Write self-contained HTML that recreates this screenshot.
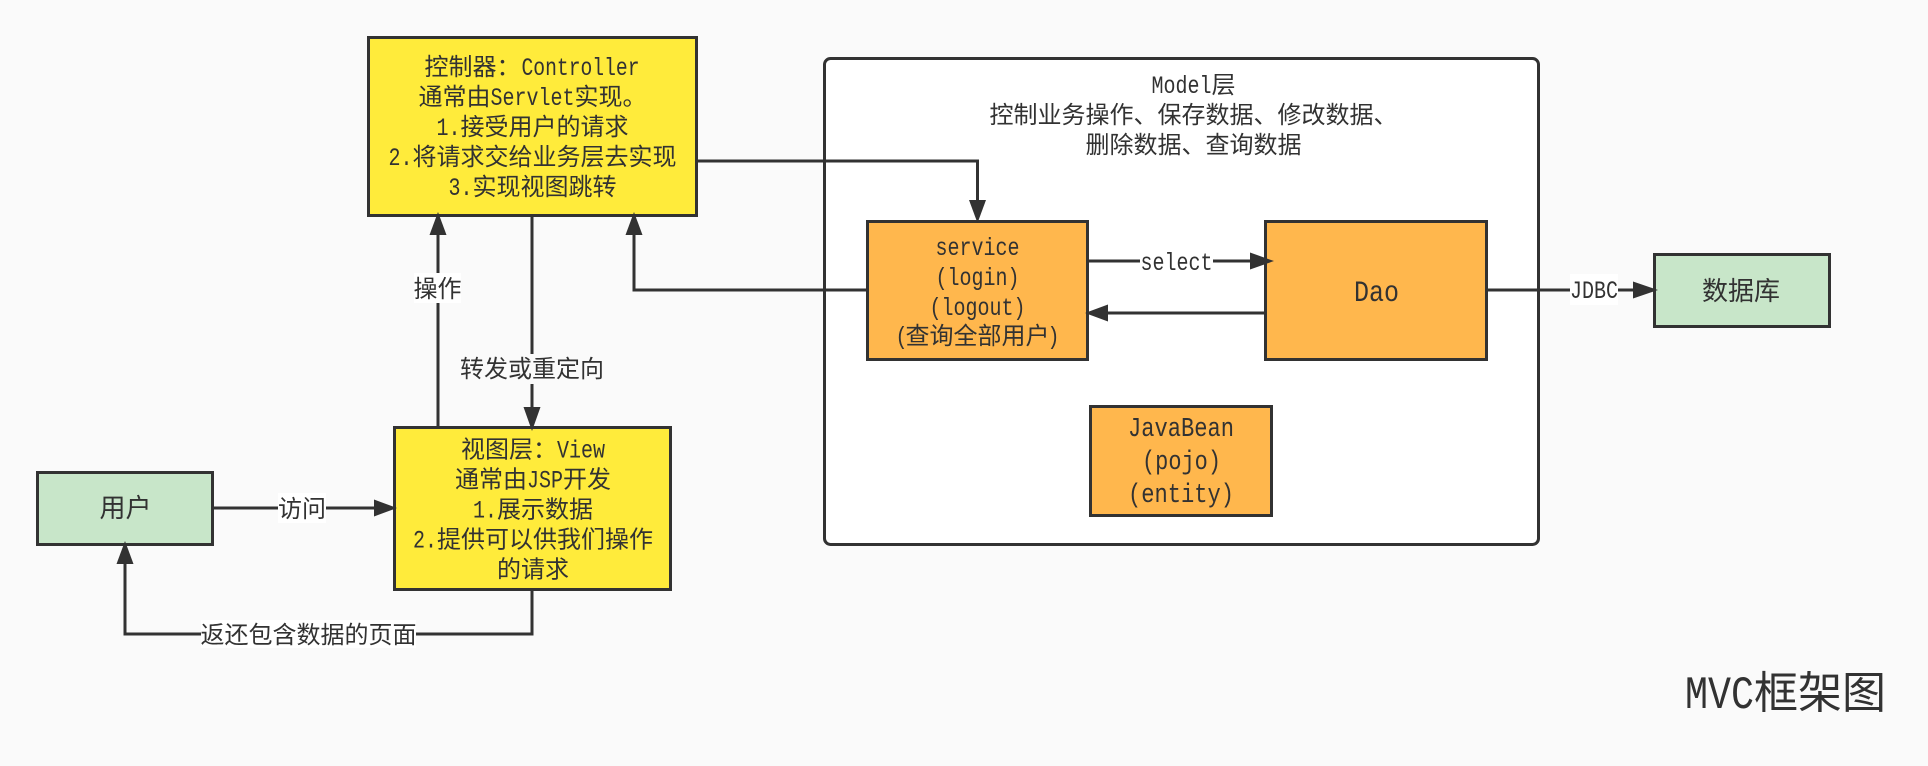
<!DOCTYPE html>
<html lang="zh">
<head>
<meta charset="utf-8">
<style>
html,body{margin:0;padding:0;background:#fafafa;width:1928px;height:766px;overflow:hidden}
svg{display:block}
text{fill:#323232;font-size:24px}
.c{font-family:"Liberation Sans","Noto Sans CJK SC",sans-serif}
.m{font-family:"Liberation Mono",monospace;font-size:25px}
.mid{text-anchor:middle}
.n{stroke:#323232;stroke-width:3}
.e{fill:none;stroke:#323232;stroke-width:3}
.a{fill:#323232;stroke:none}
</style>
</head>
<body>
<svg width="1928" height="766" viewBox="0 0 1928 766" xmlns="http://www.w3.org/2000/svg">
<rect width="1928" height="766" fill="#fafafa"/>

<rect class="n" x="824.5" y="58.5" width="714" height="486" rx="6" fill="#fff"/>
<rect class="n" x="368.5" y="37.5" width="328" height="178" fill="#ffeb3b"/>
<rect class="n" x="394.5" y="427.5" width="276" height="162" fill="#ffeb3b"/>
<rect class="n" x="37.5" y="472.5" width="175" height="72" fill="#c8e6c9"/>
<rect class="n" x="867.5" y="221.5" width="220" height="138" fill="#ffb74d"/>
<rect class="n" x="1265.5" y="221.5" width="221" height="138" fill="#ffb74d"/>
<rect class="n" x="1090.5" y="406.5" width="181" height="109" fill="#ffb74d"/>
<rect class="n" x="1654.5" y="254.5" width="175" height="72" fill="#c8e6c9"/>

<path class="e" d="M532 217V410"/>
<polygon class="a" points="532,431 523.5,407 540.5,407"/>
<path class="e" d="M438 426V233"/>
<polygon class="a" points="438,212 429.5,235 446.5,235"/>
<path class="e" d="M866 290H634V233"/>
<polygon class="a" points="634,212 625.5,235 642.5,235"/>
<path class="e" d="M698 161H977.5V203"/>
<polygon class="a" points="977.5,223 969,200 986,200"/>
<path class="e" d="M1089 261H1252"/>
<polygon class="a" points="1274,261 1250,252.5 1250,269.5"/>
<path class="e" d="M1265 313H1105"/>
<polygon class="a" points="1085,313 1108,304.5 1108,321.5"/>
<path class="e" d="M1487 290H1636"/>
<polygon class="a" points="1658,290 1633,281.5 1633,298.5"/>
<path class="e" d="M214 508H376"/>
<polygon class="a" points="397,508 374,499.5 374,516.5"/>
<path class="e" d="M532 591V634H125V562"/>
<polygon class="a" points="125,541 116.5,564 133.5,564"/>

<rect x="414" y="273" width="47" height="30" fill="#fff"/>
<rect x="458" y="354" width="148" height="30" fill="#fafafa"/>
<rect x="1140" y="246" width="73" height="30" fill="#fff"/>
<rect x="1570" y="274" width="48" height="31" fill="#fff"/>
<rect x="278" y="493" width="48" height="30" fill="#fff"/>
<rect x="201" y="620" width="215" height="28" fill="#fff"/>

<!-- Controller -->
<text class="c" x="424.5" y="75">控制器：</text>
<text class="m" x="521.5" y="75" textLength="118" lengthAdjust="spacingAndGlyphs">Controller</text>
<text class="c" x="418.5" y="105">通常由</text>
<text class="m" x="490.5" y="105" textLength="84" lengthAdjust="spacingAndGlyphs">Servlet</text>
<text class="c" x="574.5" y="105">实现。</text>
<text class="m" x="436.5" y="135" textLength="24" lengthAdjust="spacingAndGlyphs">1.</text>
<text class="c" x="460.5" y="135">接受用户的请求</text>
<text class="m" x="388.5" y="165" textLength="24" lengthAdjust="spacingAndGlyphs">2.</text>
<text class="c" x="412.5" y="165">将请求交给业务层去实现</text>
<text class="m" x="448.5" y="195" textLength="24" lengthAdjust="spacingAndGlyphs">3.</text>
<text class="c" x="472.5" y="195">实现视图跳转</text>

<!-- View -->
<text class="c" x="461" y="457.5">视图层：</text>
<text class="m" x="557" y="457.5" textLength="48" lengthAdjust="spacingAndGlyphs">View</text>
<text class="c" x="455" y="487.5">通常由</text>
<text class="m" x="527" y="487.5" textLength="36" lengthAdjust="spacingAndGlyphs">JSP</text>
<text class="c" x="563" y="487.5">开发</text>
<text class="m" x="473" y="517.5" textLength="24" lengthAdjust="spacingAndGlyphs">1.</text>
<text class="c" x="497" y="517.5">展示数据</text>
<text class="m" x="413" y="547.5" textLength="24" lengthAdjust="spacingAndGlyphs">2.</text>
<text class="c" x="437" y="547.5">提供可以供我们操作</text>
<text class="c mid" x="533" y="577.5">的请求</text>

<!-- Model -->
<text class="m" x="1151.5" y="93" textLength="60" lengthAdjust="spacingAndGlyphs">Model</text>
<text class="c" x="1211.5" y="93">层</text>
<text class="c" x="989.5" y="123">控制业务操作、保存数据、修改数据、</text>
<text class="c" x="1085.5" y="153">删除数据、查询数据</text>

<!-- Service -->
<text class="m" x="935.5" y="255" textLength="84" lengthAdjust="spacingAndGlyphs">service</text>
<text class="m" x="935.5" y="285" textLength="84" lengthAdjust="spacingAndGlyphs">(login)</text>
<text class="m" x="929.5" y="315" textLength="96" lengthAdjust="spacingAndGlyphs">(logout)</text>
<text class="m" x="895.5" y="344" textLength="12" lengthAdjust="spacingAndGlyphs">(</text>
<text class="c" x="905.5" y="344">查询全部用户</text>
<text class="m" x="1047.5" y="344" textLength="12" lengthAdjust="spacingAndGlyphs">)</text>

<!-- Dao -->
<text class="m" style="font-size:30px" x="1354" y="301" textLength="45" lengthAdjust="spacingAndGlyphs">Dao</text>

<!-- JavaBean -->
<text class="m" style="font-size:27px" x="1128" y="436" textLength="106" lengthAdjust="spacingAndGlyphs">JavaBean</text>
<text class="m" style="font-size:27px" x="1142" y="469" textLength="79" lengthAdjust="spacingAndGlyphs">(pojo)</text>
<text class="m" style="font-size:27px" x="1128" y="502" textLength="106" lengthAdjust="spacingAndGlyphs">(entity)</text>

<text class="c mid" style="font-size:26px" x="125.5" y="517">用户</text>
<text class="c mid" style="font-size:26px" x="1741" y="300">数据库</text>

<!-- Edge labels -->
<text class="c mid" x="437.5" y="297">操作</text>
<text class="c mid" x="532" y="377">转发或重定向</text>
<text class="m" x="1140.5" y="270" textLength="72" lengthAdjust="spacingAndGlyphs">select</text>
<text class="m" x="1570" y="298" textLength="48" lengthAdjust="spacingAndGlyphs">JDBC</text>
<text class="c mid" x="302" y="517">访问</text>
<text class="c mid" x="308.5" y="643">返还包含数据的页面</text>

<!-- Title -->
<text class="m" style="font-size:46px" x="1685" y="708" textLength="69" lengthAdjust="spacingAndGlyphs">MVC</text>
<text class="c" style="font-size:44px" x="1754" y="708">框架图</text>
</svg>
</body>
</html>
